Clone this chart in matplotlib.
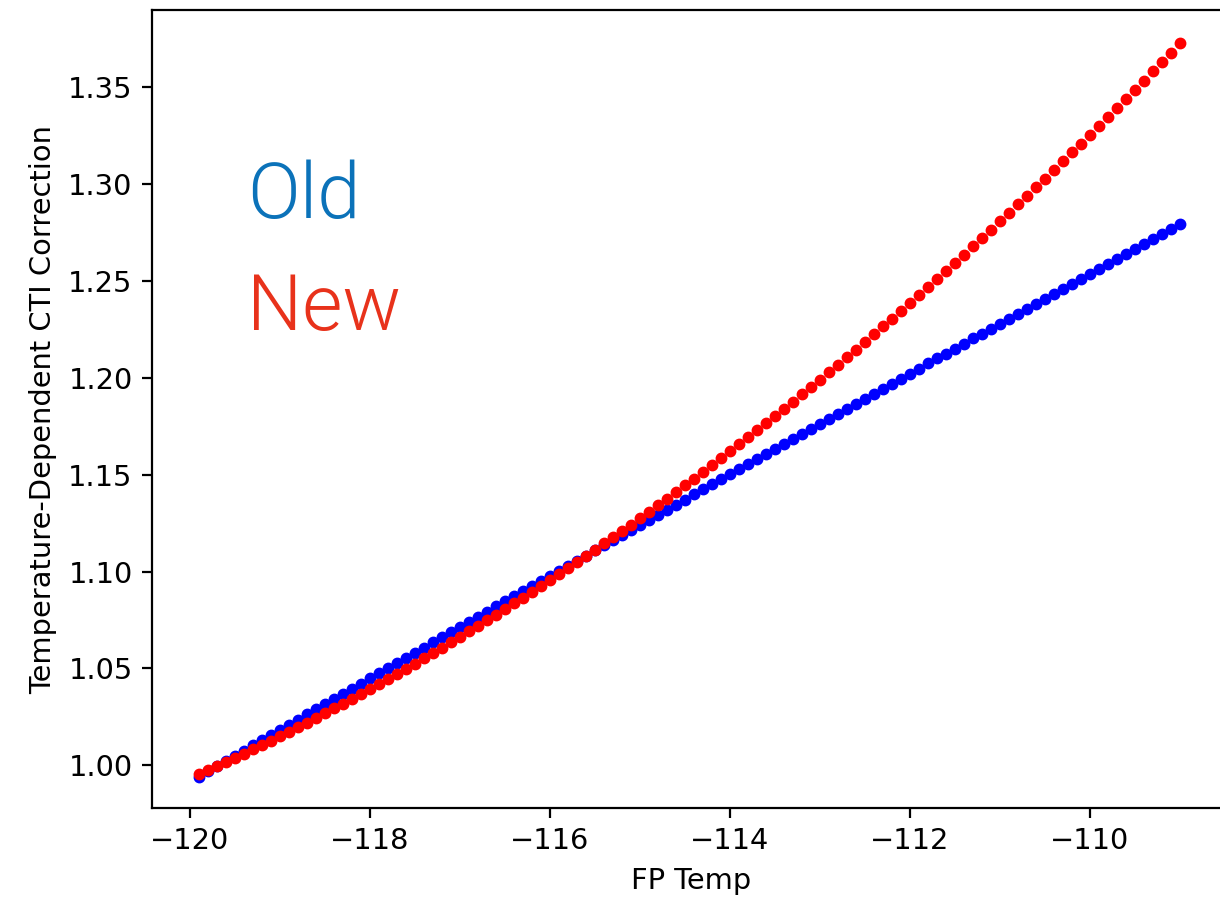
import matplotlib.pyplot as plt

# FP temperature grid (deg), one reading every 0.1
fp_temp = [
    -119.9, -119.8, -119.7, -119.6, -119.5, -119.4, -119.3, -119.2, -119.1, -119.0,
    -118.9, -118.8, -118.7, -118.6, -118.5, -118.4, -118.3, -118.2, -118.1, -118.0,
    -117.9, -117.8, -117.7, -117.6, -117.5, -117.4, -117.3, -117.2, -117.1, -117.0,
    -116.9, -116.8, -116.7, -116.6, -116.5, -116.4, -116.3, -116.2, -116.1, -116.0,
    -115.9, -115.8, -115.7, -115.6, -115.5, -115.4, -115.3, -115.2, -115.1, -115.0,
    -114.9, -114.8, -114.7, -114.6, -114.5, -114.4, -114.3, -114.2, -114.1, -114.0,
    -113.9, -113.8, -113.7, -113.6, -113.5, -113.4, -113.3, -113.2, -113.1, -113.0,
    -112.9, -112.8, -112.7, -112.6, -112.5, -112.4, -112.3, -112.2, -112.1, -112.0,
    -111.9, -111.8, -111.7, -111.6, -111.5, -111.4, -111.3, -111.2, -111.1, -111.0,
    -110.9, -110.8, -110.7, -110.6, -110.5, -110.4, -110.3, -110.2, -110.1, -110.0,
    -109.9, -109.8, -109.7, -109.6, -109.5, -109.4, -109.3, -109.2, -109.1, -109.0,
]

# old correction (blue)
old_corr = [
    0.9942, 0.9969, 0.9996, 1.0022, 1.0049, 1.0076, 1.0103, 1.0129, 1.0156, 1.0183,
    1.0209, 1.0236, 1.0263, 1.0289, 1.0316, 1.0343, 1.0369, 1.0396, 1.0422, 1.0449,
    1.0476, 1.0502, 1.0529, 1.0555, 1.0582, 1.0608, 1.0635, 1.0661, 1.0688, 1.0714,
    1.0741, 1.0767, 1.0794, 1.0820, 1.0846, 1.0873, 1.0899, 1.0925, 1.0952, 1.0978,
    1.1005, 1.1031, 1.1057, 1.1083, 1.1110, 1.1136, 1.1162, 1.1188, 1.1215, 1.1241,
    1.1267, 1.1293, 1.1320, 1.1346, 1.1372, 1.1398, 1.1424, 1.1450, 1.1476, 1.1502,
    1.1529, 1.1555, 1.1581, 1.1607, 1.1633, 1.1659, 1.1685, 1.1711, 1.1737, 1.1763,
    1.1789, 1.1815, 1.1841, 1.1867, 1.1893, 1.1918, 1.1944, 1.1970, 1.1996, 1.2022,
    1.2048, 1.2074, 1.2100, 1.2125, 1.2151, 1.2177, 1.2203, 1.2228, 1.2254, 1.2280,
    1.2306, 1.2331, 1.2357, 1.2383, 1.2408, 1.2434, 1.2460, 1.2485, 1.2511, 1.2537,
    1.2562, 1.2588, 1.2614, 1.2639, 1.2665, 1.2690, 1.2716, 1.2741, 1.2767, 1.2792,
]

# new correction (red)
new_corr = [
    0.9954, 0.9975, 0.9996, 1.0017, 1.0039, 1.0061, 1.0083, 1.0105, 1.0128, 1.0151,
    1.0174, 1.0197, 1.0221, 1.0245, 1.0269, 1.0294, 1.0318, 1.0343, 1.0369, 1.0394,
    1.0420, 1.0446, 1.0472, 1.0498, 1.0525, 1.0552, 1.0579, 1.0607, 1.0635, 1.0663,
    1.0691, 1.0719, 1.0748, 1.0777, 1.0806, 1.0836, 1.0866, 1.0896, 1.0926, 1.0956,
    1.0987, 1.1018, 1.1050, 1.1081, 1.1113, 1.1145, 1.1177, 1.1210, 1.1243, 1.1276,
    1.1309, 1.1343, 1.1377, 1.1411, 1.1445, 1.1480, 1.1515, 1.1550, 1.1585, 1.1621,
    1.1657, 1.1693, 1.1729, 1.1766, 1.1803, 1.1840, 1.1877, 1.1915, 1.1953, 1.1991,
    1.2029, 1.2068, 1.2107, 1.2146, 1.2186, 1.2225, 1.2265, 1.2305, 1.2346, 1.2387,
    1.2428, 1.2469, 1.2510, 1.2552, 1.2594, 1.2636, 1.2679, 1.2721, 1.2764, 1.2808,
    1.2851, 1.2895, 1.2939, 1.2983, 1.3028, 1.3072, 1.3117, 1.3163, 1.3208, 1.3254,
    1.3300, 1.3346, 1.3393, 1.3440, 1.3487, 1.3534, 1.3582, 1.3630, 1.3678, 1.3726,
]

plt.rcParams['font.size'] = 10.4

fig = plt.figure(figsize=(6.1, 4.51), dpi=200)
# the right spine sits just past the edge of the picture
ax = fig.add_axes([0.1246, 0.1042, 0.8832, 0.8847])

ax.plot(fp_temp, old_corr, '.', color='blue', markersize=6.5)
ax.plot(fp_temp, new_corr, '.', color='red', markersize=6.5)

ax.set_xlim(-120.42, -108.45)
ax.set_ylim(0.978, 1.3898)
ax.set_xlabel('FP Temp')
ax.set_ylabel('Temperature-Dependent CTI Correction')

# big labels written on the plot
fig.text(0.2025, 0.7583, 'Old', color='#0b72b9', fontsize=28,
         family=['Roboto', 'DejaVu Sans'], fontweight=300, va='baseline')
fig.text(0.2025, 0.6341, 'New', color='#e8321b', fontsize=28,
         family=['Roboto', 'DejaVu Sans'], fontweight=300, va='baseline')

plt.savefig('out.png', dpi=200)
